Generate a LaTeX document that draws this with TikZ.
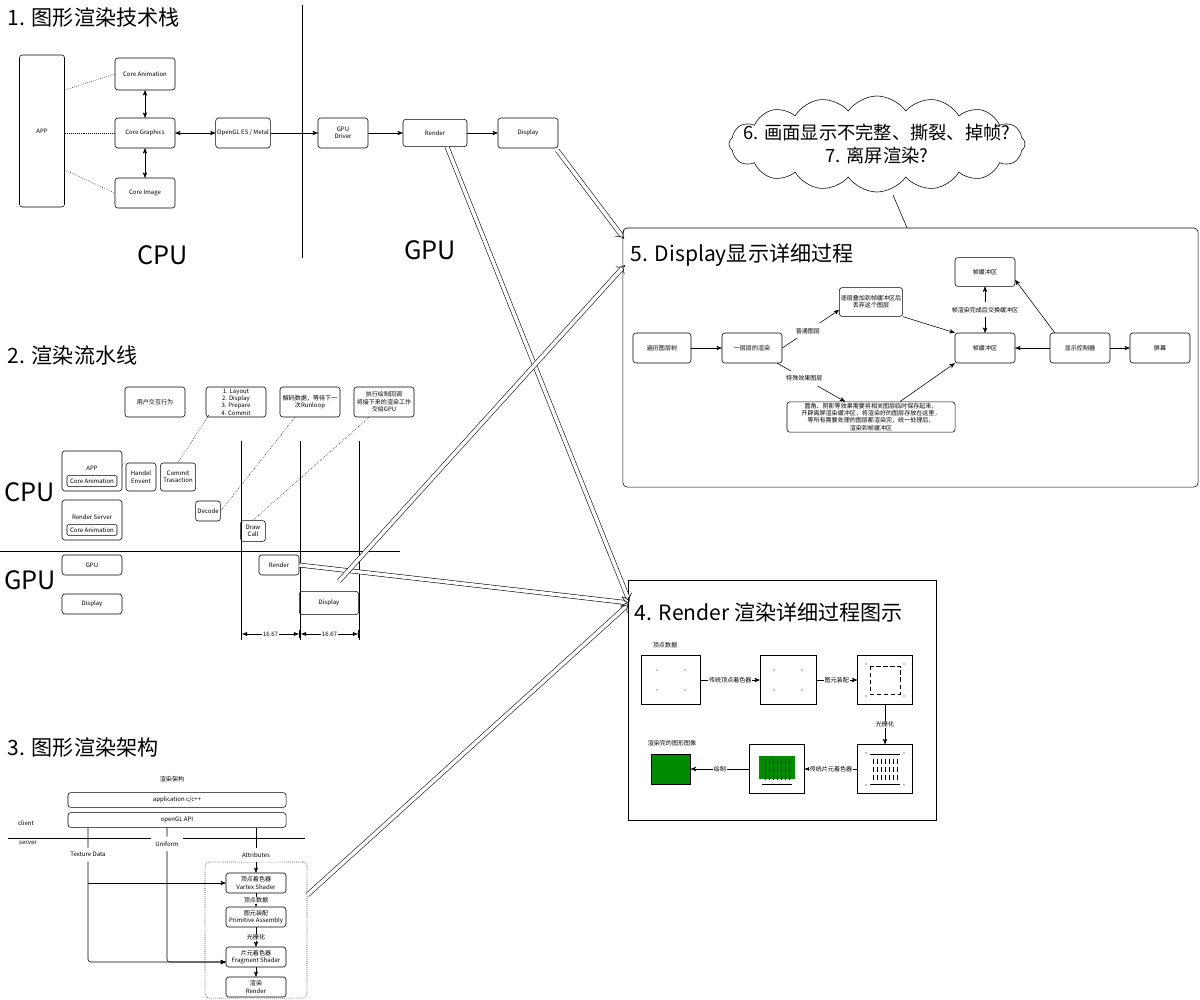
\documentclass[tikz,border=0pt]{standalone}
\usepackage{fontspec}
\setmainfont{Noto Sans CJK SC}
\usetikzlibrary{arrows,shapes.symbols}

\begin{document}
\begin{tikzpicture}[
    x=0.025cm,
    y=-0.025cm,
    >=stealth',
    font=\fontsize{4.3}{5.2}\selectfont,
    box/.style={draw, rounded corners=2pt, align=center, inner sep=1pt},
    plain/.style={draw, align=center, inner sep=1pt},
    title/.style={anchor=west, font=\fontsize{15}{17}\selectfont},
    big/.style={font=\fontsize{18}{20}\selectfont},
    link/.style={draw, densely dotted},
    pipe/.style={draw, double, double distance=2.5pt, -implies, shorten >=1pt, line width=0.4pt}
    ]

    \useasboundingbox (0,0) rectangle (1200,999);

    % 1. tech stack
    \node [title] (t1) at (3,18) {1. 图形渲染技术栈};
    \node [box, minimum width=1.125cm, minimum height=3.8cm] (app) at (42,131) {APP};
    \node [box, minimum width=1.5cm, minimum height=0.8cm] (ca) at (145,74) {Core Animation};
    \node [box, minimum width=1.5cm, minimum height=0.75cm] (cg) at (145,133) {Core Graphics};
    \node [box, minimum width=1.5cm, minimum height=0.75cm] (ci) at (145,193) {Core Image};
    \node [box, minimum width=1.25cm, minimum height=0.75cm] (ogl) at (243,133) {OpenGL ES / Metal};
    \node [box, minimum width=1.25cm, minimum height=0.75cm] (drv) at (343,133) {GPU\\Driver};
    \node [box, minimum width=1.6cm, minimum height=0.68cm] (rnd) at (435,133) {Render};
    \node [box, minimum width=1.5cm, minimum height=0.75cm] (dsp) at (528,133) {Display};
    \coordinate (s1top) at (302,5);
    \coordinate (s1bot) at (302,258);
    \draw (s1top) -- (s1bot);
    \node [big] (cpu1) at (163,255) {CPU};
    \node [big] (gpu1) at (430,250) {GPU};

    \path [link] (app.east |- 0,90) -- (ca.west);
    \path [link] (app.east |- cg) -- (cg.west);
    \path [link] (app.east |- 0,170) -- (ci.west);
    \draw [<->] (ca) -- (cg);
    \draw [<->] (cg) -- (ci);
    \draw [<->] (cg) -- (ogl);
    \draw [->] (ogl) -- (drv);
    \draw [->] (drv) -- (rnd);
    \draw [->] (rnd) -- (dsp);

    % 6/7 cloud
    \node [cloud, draw, cloud puffs=16, cloud puff arc=110, aspect=3, minimum width=7.4cm, minimum height=2.4cm,
      inner sep=0] (qs) at (877,144) {};
    \node [align=center, font=\fontsize{13}{16}\selectfont] (qst) at (qs.center) {6. 画面显示不完整、撕裂、掉帧?\\7. 离屏渲染?};

    % 5. display
    \node [draw, rounded corners=3pt, minimum width=14.375cm, minimum height=6.475cm] (f5) at (910.5,357.5) {};
    \node [title] (t5) at (626,255) {5. Display显示详细过程};
    \coordinate (qsb) at (893,195);
    \draw (qsb) -- (f5.north -| 907,0);
    \node [box, minimum width=1.45cm, minimum height=0.75cm] (tree) at (662,348) {遍历图层树};
    \node [box, minimum width=1.5cm, minimum height=0.75cm] (layer) at (752,348) {一层层的渲染};
    \node [box, minimum width=1.5cm, minimum height=0.72cm] (drop) at (871,302) {逐层叠加到帧缓冲区后\\丢弃这个图层};
    \node [box, minimum width=1.5cm, minimum height=0.72cm] (fbtop) at (985,272) {帧缓冲区};
    \node [box, minimum width=1.5cm, minimum height=0.75cm] (fbmid) at (985,348) {帧缓冲区};
    \node [box, minimum width=1.5cm, minimum height=0.75cm] (ctrl) at (1080,348) {显示控制器};
    \node [box, minimum width=1.5cm, minimum height=0.75cm] (scr) at (1160,348) {屏幕};
    \node [box, minimum width=4.2cm, minimum height=0.72cm] (off) at (871,417)
      {圆角、阴影等效果需要将相关图层临时保存起来，\\开辟离屏渲染缓冲区，将渲染好的图层存放在这里，\\等所有需要处理的图层都渲染完，统一处理后，\\渲染到帧缓冲区};
    \draw [->] (tree) -- (layer);
    \draw [->] (layer.east) -- node [fill=white, pos=.45] {普通图层} (drop.west |- 0,310);
    \draw [->] (layer.south east) ++(-5,0) -- node [fill=white, pos=.4] {特殊效果图层} (off.north -| 845,0);
    \draw [->] (drop.south east) -- (fbmid.north west);
    \draw [->] (off.north -| 900,0) -- (fbmid.south west);
    \draw [<->] (fbtop) -- node [fill=white] {帧渲染完成后\\交换缓冲区} (fbmid);
    \draw [->] (ctrl) -- (fbmid);
    \draw [->] (ctrl.north west) ++(5,0) -- (fbtop.east |- 0,280);
    \draw [->] (ctrl) -- (scr);

    % 2. pipeline
    \node [title] (t2) at (3,355) {2. 渲染流水线};
    \node [box, minimum width=1.5cm, minimum height=0.75cm] (user) at (155,402) {用户交互行为};
    \node [box, minimum width=1.5cm, minimum height=0.75cm] (steps) at (236,402) {1. Layout\\2. Display\\3. Prepare\\4. Commit};
    \node [box, minimum width=1.5cm, minimum height=0.75cm] (dec) at (310,402) {解码数据，等待下一\\次Runloop};
    \node [box, minimum width=1.5cm, minimum height=0.75cm] (cb) at (384,402) {执行绘制回调\\将接下来的渲染工作\\交给GPU};
    \node [box, minimum width=1.5cm, minimum height=1cm] (app2) at (92,471) {};
    \node [plain, rounded corners=1pt, minimum width=1.25cm, minimum height=0.27cm] (ca2) at (92,481) {Core Animation};
    \node (app2t) at (92,468) {APP};
    \node [box, minimum width=0.75cm, minimum height=0.7cm] (hev) at (141,477) {Handel\\Envent};
    \node [box, minimum width=0.88cm, minimum height=0.7cm] (ctx) at (178,477) {Commit\\Trasaction};
    \node [box, minimum width=1.5cm, minimum height=1cm] (srv) at (92,520) {};
    \node [plain, rounded corners=1pt, minimum width=1.25cm, minimum height=0.27cm] (ca3) at (92,530) {Core Animation};
    \node (srvt) at (92,517) {Render Server};
    \node [box, minimum width=0.62cm, minimum height=0.5cm] (dcd) at (208,511) {Decode};
    \node [box, minimum width=0.62cm, minimum height=0.52cm] (dc) at (253,531) {Draw\\Call};
    \node [big] (cpu2) at (30,492) {CPU};
    \node [big] (gpu2) at (30,580) {GPU};
    \coordinate (splitl) at (0,551);
    \coordinate (splitr) at (400,551);
    \draw (splitl) -- (splitr);
    \node [box, minimum width=1.5cm, minimum height=0.5cm] (gpu3) at (92,565) {GPU};
    \node [box, minimum width=1.5cm, minimum height=0.5cm] (dsp3) at (92,604) {Display};
    \node [box, minimum width=1cm, minimum height=0.5cm] (rnd2) at (279,565) {Render};
    \node [box, minimum width=1.48cm, minimum height=0.58cm] (dsp2) at (329,603) {Display};
    \foreach \x [count=\i] in {241,300,359} {
      \coordinate (vt\i) at (\x,441);
      \coordinate (vb\i) at (\x,640);
      \draw (vt\i) -- (vb\i);
    }
    \draw [|<->|, >=latex] (vt1 |- 0,634) -- node [fill=white, inner sep=0.5pt] {16.67} (vt2 |- 0,634);
    \draw [|<->|, >=latex] (vt2 |- 0,634) -- node [fill=white, inner sep=0.5pt] {16.67} (vt3 |- 0,634);
    \path [link] (steps.south west) ++(3,-2) -- (ctx.north);
    \path [link] (dec.south) ++(-15,0) -- (dcd.east);
    \path [link] (cb.south) ++(-15,0) -- (dc.north);
    \path [link] (app2.east |- 0,465) -- (hev.north west);

    % 3. architecture
    \node [title] (t3) at (3,748) {3. 图形渲染架构};
    \node (arch) at (172,779) {渲染架构};
    \node [box, minimum width=5.45cm, minimum height=0.37cm] (appl) at (177,800) {application c/c++};
    \node [box, minimum width=5.45cm, minimum height=0.37cm] (api) at (177,820) {openGL API};
    \node (client) at (26,823) {client};
    \node (server) at (28,843) {server};
    \coordinate (csl) at (8,838);
    \coordinate (csr) at (305,838);
    \draw (csl) -- (csr);
    \node [draw, densely dotted, rounded corners=3pt, minimum width=2.55cm, minimum height=3.4cm] (gl) at (256,930) {};
    \node [box, minimum width=1.5cm, minimum height=0.5cm] (vs) at (256,883) {顶点着色器\\Vartex Shader};
    \node [box, minimum width=1.5cm, minimum height=0.5cm] (pa) at (256,917) {图元装配\\Primitive Assembly};
    \node [box, minimum width=1.5cm, minimum height=0.5cm] (fs) at (256,957) {片元着色器\\Fragment Shader};
    \node [box, minimum width=1.5cm, minimum height=0.5cm] (rr) at (256,987) {渲染\\Render};
    \draw [->] (vs) -- node [fill=white, inner sep=0.5pt] {顶点数据} (pa);
    \draw [->] (pa) -- node [fill=white, inner sep=0.5pt] {光栅化} (fs);
    \draw [->] (fs) -- (rr);
    \draw [->, rounded corners=2pt] (api.south -| 88,0) -- node [fill=white, pos=.2] {Texture Data} (88,962) -- (fs.west |- 0,962);
    \draw [->] (88,883) -- (vs.west);
    \draw [->, rounded corners=2pt] (api.south -| 167,0) -- node [fill=white, pos=.12] {Uniform} (167,962) -- (fs.west |- 0,962);
    \draw [->] (api.south -| vs) -- node [fill=white, pos=.6] {Attributes} (vs.north);

    % 4. render
    \node [draw, minimum width=7.7cm, minimum height=6cm] (f4) at (782,700) {};
    \node [title] (t4) at (630,612) {4. Render 渲染详细过程图示};
    \node (vdata) at (665,645) {顶点数据};
    \node [plain, minimum width=1.48cm, minimum height=1.23cm] (pa1) at (671,680) {};
    \node [plain, minimum width=1.4cm, minimum height=1.23cm] (pa2) at (788,680) {};
    \node [plain, minimum width=1.38cm, minimum height=1.23cm] (pa3) at (885,680) {};
    \node [plain, minimum width=1.38cm, minimum height=1.23cm] (pa4) at (885,769) {};
    \node [plain, minimum width=1.38cm, minimum height=1.23cm] (pa5) at (777,769) {};
    \node [draw, fill=green!55!black, minimum width=0.98cm, minimum height=0.75cm, inner sep=0] (done) at (671,769) {};
    \node (donet) at (672,743) {渲染完的图形图像};
    \foreach \p in {pa1,pa2} {
      \foreach \dx in {-14,14} \foreach \dy in {-10,10}
        \fill ([shift={(\dx,\dy)}]\p.center) circle (0.4pt);
    }
    \foreach \dx in {-19,19} \foreach \dy in {-16,16}
      \fill ([shift={(\dx,\dy)}]pa3.center) circle (0.4pt);
    \draw [densely dashed, line width=0.3pt] ([shift={(-15,-14)}]pa3.center) rectangle ([shift={(15,14)}]pa3.center);
    \foreach \dx in {-19,19} \foreach \dy in {-16,16}
      \fill ([shift={(\dx,\dy)}]pa4.center) circle (0.4pt);
    \draw [line width=0.3pt] ([shift={(-15,-15)}]pa4.center) -- ([shift={(15,-15)}]pa4.center)
      ([shift={(-15,15)}]pa4.center) -- ([shift={(15,15)}]pa4.center);
    \foreach \dx in {-12,-8,...,12} \foreach \dy in {-8,0,8}
      \draw [line width=0.3pt] ([shift={(\dx,\dy-2.5)}]pa4.center) -- ++(0,5);
    \fill [green!55!black] ([shift={(-18,-13)}]pa5.center) rectangle ([shift={(18,10)}]pa5.center);
    \foreach \dx in {-12,-8,...,12} \foreach \dy in {-8,0,8}
      \draw [line width=0.3pt] ([shift={(\dx,\dy-2.5)}]pa5.center) -- ++(0,5);
    \draw [line width=0.3pt] ([shift={(-15,15)}]pa5.center) -- ([shift={(15,15)}]pa5.center);
    \draw [->] (pa1) -- node [fill=white, inner sep=0.5pt] {传统顶点着色器} (pa2);
    \draw [->] (pa2) -- node [fill=white, inner sep=0.5pt] {图元装配} (pa3);
    \draw [->] (pa3) -- node [fill=white, inner sep=0.5pt] {光栅化} (pa4);
    \draw [->] (pa4) -- node [fill=white, inner sep=0.5pt] {传统片元着色器} (pa5);
    \draw [->] (pa5) -- node [fill=white, inner sep=0.5pt] {绘制} (done);

    % hollow links between sections
    \coordinate (in4) at (630,603);
    \coordinate (in5a) at (625,240);
    \coordinate (in5b) at (626,264);
    \path [pipe] (rnd.south) ++(12,0) -- (in4);
    \path [pipe] (dsp.south east) ++(-1,2) -- (in5a);
    \path [pipe] (rnd2.east) -- (in4);
    \path [pipe] (dsp2.north) ++(10,-10) -- (in5b);
    \path [pipe] (gl.east) ++(0,-35) -- (in4);

\end{tikzpicture}
\end{document}
